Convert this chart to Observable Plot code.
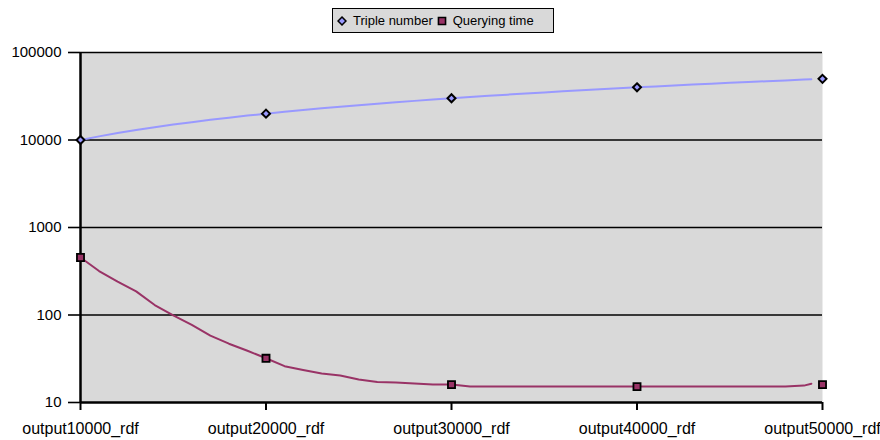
<!DOCTYPE html>
<html>
<head>
<meta charset="utf-8">
<script src="https://cdn.jsdelivr.net/npm/d3@7"></script>
<script src="https://cdn.jsdelivr.net/npm/@observablehq/plot@0.6"></script>
<style>
  html, body { margin: 0; padding: 0; background: #fff; }
  #wrap { position: relative; width: 880px; height: 440px; font-family: "Liberation Sans", Arial, sans-serif; }
  #legend {
    position: absolute; left: 332px; top: 8px; width: 220px; height: 23px;
    border: 1.5px solid #000; background: #d9d9d9; box-sizing: content-box;
    display: flex; align-items: center; font-size: 13px; color: #000;
  }
  #legend .item { display: flex; align-items: center; margin-left: 4px; }
  #legend svg { margin-right: 6px; }
  #chart { position: absolute; left: 0; top: 0; }
</style>
</head>
<body>
<div id="wrap">
  <div id="chart"></div>
  <div id="legend"></div>
</div>
<script>
// Dataset sizes (category positions) and the sampled run points between them
const categories = [10000, 20000, 30000, 40000, 50000];
const categoryLabels = ["output10000_rdf", "output20000_rdf", "output30000_rdf", "output40000_rdf", "output50000_rdf"];

const runSize = [10000, 11000, 12000, 13000, 14000, 15000, 16000, 17000, 18000, 19000,
                 20000, 21000, 22000, 23000, 24000, 25000, 26000, 27000, 28000, 29000,
                 30000, 31000, 32000, 33000, 34000, 35000, 36000, 37000, 38000, 39000,
                 40000, 41000, 42000, 43000, 44000, 45000, 46000, 47000, 48000, 49000, 49400];

const tripleNumber = [10000, 11000, 12000, 13000, 14000, 15000, 16000, 17000, 18000, 19000,
                      20000, 21000, 22000, 23000, 24000, 25000, 26000, 27000, 28000, 29000,
                      30000, 31000, 32000, 33000, 34000, 35000, 36000, 37000, 38000, 39000,
                      40000, 41000, 42000, 43000, 44000, 45000, 46000, 47000, 48000, 49000, 49400];

const queryingTime = [454, 318, 241, 186, 130, 99, 77, 58, 47, 39,
                      32, 26, 23.5, 21.4, 20.4, 18.3, 17.1, 16.9, 16.5, 16.1,
                      16.1, 15.2, 15.2, 15.2, 15.2, 15.2, 15.2, 15.2, 15.2, 15.2,
                      15.2, 15.2, 15.2, 15.2, 15.2, 15.2, 15.2, 15.2, 15.2, 15.6, 16.4];

// Values shown with markers at each category
const tripleMarkers = [10000, 20000, 30000, 40000, 50000];
const queryMarkers = [454, 32, 16, 15.2, 16];

const yTicks = [10, 100, 1000, 10000, 100000];

const tripleColor = "#9999ff";
const queryColor = "#993366";
const font = "Liberation Sans, Arial, sans-serif";

const runs = runSize.map((s, i) => ({size: s, triples: tripleNumber[i], time: queryingTime[i]}));
const marks = categories.map((c, i) => ({size: c, triples: tripleMarkers[i], time: queryMarkers[i]}));
const labelOf = new Map(categories.map((c, i) => [c, categoryLabels[i]]));

const chart = Plot.plot({
  width: 880,
  height: 440,
  marginLeft: 80,
  marginRight: 58,
  marginTop: 52,
  marginBottom: 38,
  style: {fontFamily: font, fontSize: "15px", color: "#000", background: "transparent"},
  x: {type: "linear", domain: [10000, 50000]},
  y: {type: "log", domain: [10, 100000]},
  marks: [
    Plot.frame({fill: "#d9d9d9", stroke: null}),
    Plot.ruleY(yTicks.slice(1), {stroke: "#000", strokeWidth: 1.6}),
    Plot.axisY({ticks: yTicks, tickFormat: d => String(d), tickSize: 12, tickPadding: 7,
                stroke: "#000", strokeWidth: 1.6, label: null, fontSize: 15}),
    Plot.axisX({ticks: categories, tickFormat: d => labelOf.get(d), tickSize: 8, tickPadding: 12,
                stroke: "#000", strokeWidth: 2, label: null, fontSize: 16}),
    Plot.ruleX([10000], {stroke: "#000", strokeWidth: 2.5}),
    Plot.ruleY([10], {stroke: "#000", strokeWidth: 2.5}),
    Plot.line(runs, {x: "size", y: "triples", stroke: tripleColor, strokeWidth: 2}),
    Plot.line(runs, {x: "size", y: "time", stroke: queryColor, strokeWidth: 2}),
    Plot.dot(marks, {x: "size", y: "triples", symbol: "diamond2", r: 3.6, fill: tripleColor, stroke: "#000", strokeWidth: 2}),
    Plot.dot(marks, {x: "size", y: "time", symbol: "square", r: 4, fill: queryColor, stroke: "#000", strokeWidth: 1.8})
  ]
});
document.getElementById("chart").append(chart);

// Legend
const legend = d3.select("#legend");
const items = [
  {name: "Triple number", color: tripleColor, shape: d3.symbolDiamond2, size: 40},
  {name: "Querying time", color: queryColor, shape: d3.symbolSquare, size: 50}
];
for (const it of items) {
  const item = legend.append("div").attr("class", "item");
  const s = item.append("svg").attr("width", 10).attr("height", 12);
  s.append("path")
    .attr("transform", "translate(5,6)")
    .attr("d", d3.symbol(it.shape, it.size)())
    .attr("fill", it.color).attr("stroke", "#000").attr("stroke-width", 1.6);
  item.append("span").text(it.name);
}
</script>
</body>
</html>
